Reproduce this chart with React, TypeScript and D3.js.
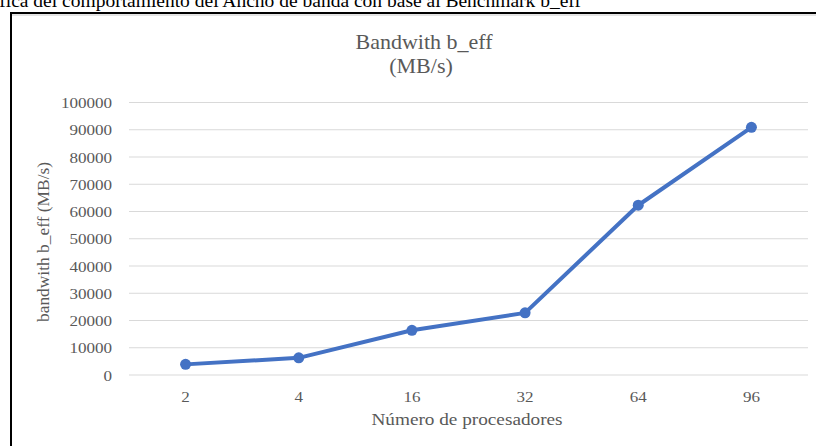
import React from "react";
import * as d3 from "d3";

const categories = ["2", "4", "16", "32", "64", "96"];
const values = [3900, 6300, 16400, 22800, 62300, 90900];
const yTicks = [0, 10000, 20000, 30000, 40000, 50000, 60000, 70000, 80000, 90000, 100000];

const W = 816;
const H = 446;
const FONT = "Liberation Serif, serif";
const SX = 1.1; // horizontal stretch of the reference image
const GREY = "#595959";

function HText(props: { x: number; y: number; size: number; anchor?: string; fill?: string; children: React.ReactNode }) {
  const { x, y, size, anchor = "middle", fill = GREY, children } = props;
  return (
    <text
      transform={`translate(${x},${y}) scale(${SX},1)`}
      textAnchor={anchor}
      fontSize={size}
      fill={fill}
      style={{ fontFamily: FONT }}
    >
      {children}
    </text>
  );
}

export default function App() {
  const x = d3.scaleBand<string>().domain(categories).range([129, 808]);
  const y = d3.scaleLinear().domain([0, 100000]).range([375, 102.5]);
  const cx = (c: string) => (x(c) as number) + x.bandwidth() / 2;
  const line = d3
    .line<number>()
    .x((_, i) => cx(categories[i]))
    .y((d) => y(d));

  return (
    <svg
      width={W}
      height={H}
      style={{ position: "fixed", left: 0, top: 0, background: "#fff", fontFamily: FONT }}
    >
      <text x={581} y={7} textAnchor="end" fontSize={19.5} fill="#000" style={{ fontFamily: FONT }}>
        Gráfica del comportamiento del Ancho de banda con base al Benchmark b_eff
      </text>
      <line x1={11} y1={15} x2={W} y2={15} stroke="#c8c8c8" strokeWidth={1} />
      <rect x={11} y={13} width={W + 20} height={H + 20} fill="none" stroke="#000" strokeWidth={2} />

      <HText x={424} y={49} size={20}>Bandwith b_eff</HText>
      <HText x={421} y={73} size={20}>(MB/s)</HText>

      {yTicks.map((t) => (
        <g key={t}>
          <line x1={129} x2={808} y1={y(t)} y2={y(t)} stroke="#d9d9d9" strokeWidth={1.2} />
          <HText x={112} y={y(t) + 5.5} size={15.5} anchor="end">
            {t}
          </HText>
        </g>
      ))}

      {categories.map((c) => (
        <HText key={c} x={cx(c)} y={402} size={15.5}>
          {c}
        </HText>
      ))}

      <HText x={467} y={425} size={17.5}>Número de procesadores</HText>
      <text
        transform={`translate(49, 242) rotate(-90)`}
        textAnchor="middle"
        fontSize={17.4}
        fill={GREY}
        style={{ fontFamily: FONT }}
      >
        bandwith b_eff (MB/s)
      </text>

      <path d={line(values) || ""} fill="none" stroke="#4472C4" strokeWidth={4} strokeLinejoin="round" />
      {values.map((v, i) => (
        <circle key={i} cx={cx(categories[i])} cy={y(v)} r={5.5} fill="#4472C4" />
      ))}
    </svg>
  );
}
